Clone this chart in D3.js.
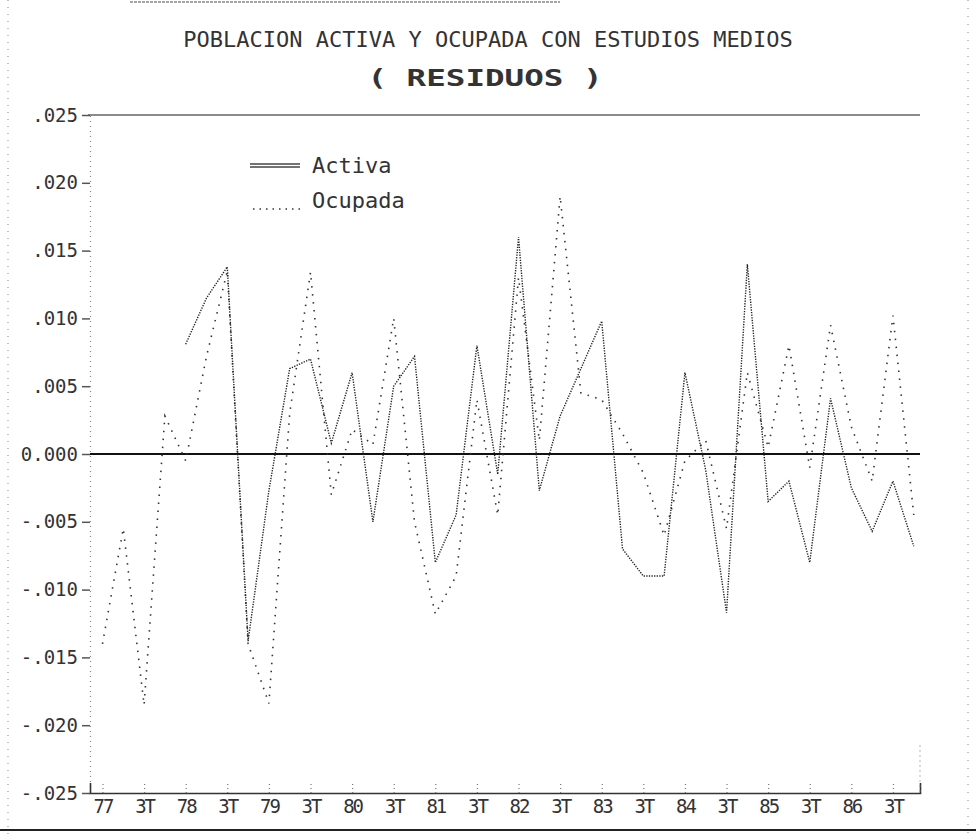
<!DOCTYPE html>
<html>
<head>
<meta charset="utf-8">
<script src="https://cdn.jsdelivr.net/npm/d3@7/dist/d3.min.js"></script>
<style>
  html, body { margin: 0; padding: 0; background: #fff; }
  svg { display: block; }
  text { font-family: "DejaVu Sans Mono", "Liberation Mono", monospace; fill: #333; }
</style>
</head>
<body>
<svg id="chart" width="976" height="834"></svg>
<script>
// ---------------- data ----------------
const periods = [
  "77.1","77.2","77.3","77.4","78.1","78.2","78.3","78.4","79.1","79.2",
  "79.3","79.4","80.1","80.2","80.3","80.4","81.1","81.2","81.3","81.4",
  "82.1","82.2","82.3","82.4","83.1","83.2","83.3","83.4","84.1","84.2",
  "84.3","84.4","85.1","85.2","85.3","85.4","86.1","86.2","86.3","86.4"
];
const activa = [
  null, null, null, null, 0.0081, 0.0115, 0.0138, -0.0138, -0.0027, 0.0063,
  0.0070, 0.0008, 0.0060, -0.0050, 0.0050, 0.0072, -0.0080, -0.0045, 0.0080, -0.0015,
  0.0160, -0.0027, 0.0028, 0.0063, 0.0098, -0.0070, -0.0090, -0.0090, 0.0060, -0.0012,
  -0.0117, 0.0140, -0.0035, -0.0020, -0.0080, 0.0041, -0.0025, -0.0057, -0.0020, -0.0068
];
const ocupada = [
  -0.0140, -0.0055, -0.0185, 0.0028, -0.0005, 0.0072, 0.0135, -0.0140, -0.0184, 0.0030,
  0.0134, -0.0030, 0.0018, 0.0007, 0.0100, -0.0050, -0.0118, -0.0090, 0.0040, -0.0045,
  0.0130, 0.0010, 0.0190, 0.0045, 0.0040, 0.0015, -0.0014, -0.0060, -0.0005, 0.0010,
  -0.0055, 0.0060, 0.0005, 0.0080, -0.0010, 0.0095, 0.0020, -0.0020, 0.0102, -0.0045
];
const xTickIndex = [0, 2, 4, 6, 8, 10, 12, 14, 16, 18, 20, 22, 24, 26, 28, 30, 32, 34, 36, 38];
const xTickLabels = ["77","3T","78","3T","79","3T","80","3T","81","3T","82","3T","83","3T","84","3T","85","3T","86","3T"];
const yTickValues = [0.025, 0.020, 0.015, 0.010, 0.005, 0, -0.005, -0.010, -0.015, -0.020, -0.025];
const yTickLabels = [".025", ".020", ".015", ".010", ".005", "0.000", "-.005", "-.010", "-.015", "-.020", "-.025"];
const seriesNames = ["Activa", "Ocupada"];
const titleText = "POBLACION ACTIVA Y OCUPADA CON ESTUDIOS MEDIOS";
const subtitleText = "( RESIDUOS )";

(function () {
// ---------------- layout ----------------
const svg = d3.select("#chart");
const plotLeft = 90, plotRight = 920, plotTop = 115, plotBottom = 793;

const x = d3.scaleLinear().domain([-0.6, 39.3]).range([plotLeft, plotRight]);
const y = d3.scaleLinear().domain([-0.025, 0.025]).range([plotBottom, plotTop]);

// page decorations (scan frame)
svg.append("line").attr("x1", 8).attr("x2", 8).attr("y1", 0).attr("y2", 834)
  .attr("stroke", "#999").attr("stroke-width", 1.2).attr("stroke-dasharray", "1 6");
svg.append("line").attr("x1", 968).attr("x2", 968).attr("y1", 0).attr("y2", 834)
  .attr("stroke", "#999").attr("stroke-width", 1.2).attr("stroke-dasharray", "1 7");
svg.append("line").attr("x1", 130).attr("x2", 560).attr("y1", 2).attr("y2", 2)
  .attr("stroke", "#888").attr("stroke-width", 1.5).attr("stroke-dasharray", "3 1");
svg.append("line").attr("x1", 0).attr("x2", 976).attr("y1", 830).attr("y2", 830)
  .attr("stroke", "#222").attr("stroke-width", 2);

// title
svg.append("text").attr("x", 488).attr("y", 47).attr("text-anchor", "middle")
  .attr("font-size", 22).attr("fill", "#555").text(titleText);
svg.append("text").attr("transform", "translate(485,86) scale(1.55,1.1)")
  .attr("text-anchor", "middle").attr("font-size", 21).attr("font-weight", "bold")
  .attr("fill", "#555").text(subtitleText);

// top frame line and zero line
svg.append("line").attr("x1", plotLeft - 2).attr("x2", plotRight).attr("y1", y(0.025)).attr("y2", y(0.025))
  .attr("stroke", "#666").attr("stroke-width", 1.5);
svg.append("line").attr("x1", plotLeft).attr("x2", plotRight).attr("y1", y(0)).attr("y2", y(0))
  .attr("stroke", "#111").attr("stroke-width", 2);

// y axis
const yAxis = d3.axisLeft(y).tickValues(yTickValues)
  .tickFormat((d, i) => yTickLabels[i]).tickSize(8).tickPadding(4);
const gy = svg.append("g").attr("transform", `translate(${plotLeft},0)`).call(yAxis);
gy.select(".domain").attr("stroke", "#888").attr("stroke-width", 1.2).attr("stroke-dasharray", "1 4");
gy.selectAll(".tick line").attr("stroke", "#555").attr("stroke-width", 1.5);
gy.selectAll(".tick text").attr("font-size", 19).attr("fill", "#555")
  .attr("font-family", "DejaVu Sans Mono");

// x axis
const xAxis = d3.axisBottom(x).tickValues(xTickIndex)
  .tickFormat((d, i) => xTickLabels[i]).tickSize(-10).tickPadding(7);
const gx = svg.append("g").attr("transform", `translate(0,${plotBottom})`).call(xAxis);
gx.select(".domain").attr("stroke", "#333").attr("stroke-width", 1.6);
gx.selectAll(".tick line").attr("stroke", "#777").attr("stroke-width", 1.2).attr("stroke-dasharray", "1 3");
gx.selectAll(".tick text").attr("font-size", 19).attr("fill", "#555")
  .attr("font-family", "DejaVu Sans Mono").attr("letter-spacing", -2);

// right edge dotted stub
svg.append("line").attr("x1", plotRight).attr("x2", plotRight).attr("y1", y(-0.0215)).attr("y2", plotBottom)
  .attr("stroke", "#888").attr("stroke-width", 1.2).attr("stroke-dasharray", "1 4");

// series lines
const line = d3.line()
  .defined(d => d.v !== null)
  .x(d => x(d.i))
  .y(d => y(d.v))
  .curve(d3.curveLinear);

const actData = activa.map((v, i) => ({ i, v, p: periods[i] }));
const ocuData = ocupada.map((v, i) => ({ i, v, p: periods[i] }));

svg.append("path").datum(ocuData).attr("d", line)
  .attr("fill", "none").attr("stroke", "#333").attr("stroke-width", 1.6)
  .attr("stroke-dasharray", "1.5 6.5");
svg.append("path").datum(actData).attr("d", line)
  .attr("fill", "none").attr("stroke", "#222").attr("stroke-width", 1.4)
  .attr("stroke-dasharray", "1.3 1.3");

// legend
const legend = svg.append("g");
legend.append("line").attr("x1", 250).attr("x2", 300).attr("y1", 164).attr("y2", 164)
  .attr("stroke", "#444").attr("stroke-width", 1.3);
legend.append("line").attr("x1", 250).attr("x2", 300).attr("y1", 167).attr("y2", 167)
  .attr("stroke", "#444").attr("stroke-width", 1.3);
legend.append("line").attr("x1", 253).attr("x2", 300).attr("y1", 209).attr("y2", 209)
  .attr("stroke", "#333").attr("stroke-width", 1.6).attr("stroke-dasharray", "1.5 5");
legend.append("text").attr("x", 312).attr("y", 173).attr("font-size", 22).attr("fill", "#555").text(seriesNames[0]);
legend.append("text").attr("x", 312).attr("y", 208).attr("font-size", 22).attr("fill", "#555").text(seriesNames[1]);
})();
</script>
</body>
</html>
